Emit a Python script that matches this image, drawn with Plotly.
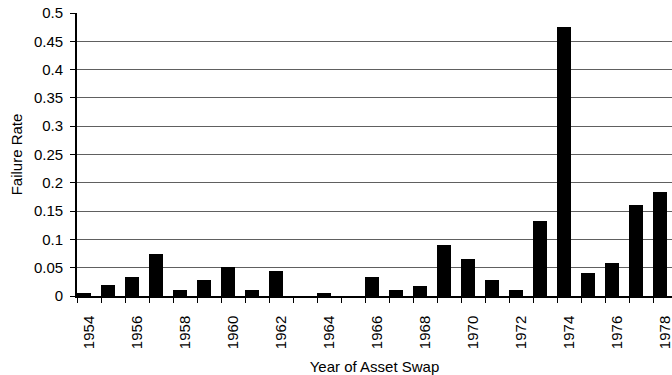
import plotly.graph_objects as go

years = list(range(1954, 1979))
failure_rate = [0.006, 0.019, 0.034, 0.075, 0.011, 0.029, 0.051, 0.011, 0.045, 0.0,
                0.005, 0.0, 0.034, 0.010, 0.017, 0.090, 0.066, 0.029, 0.010, 0.133,
                0.475, 0.040, 0.059, 0.160, 0.184]
tick_years = years[::2]
tick_labels = [str(y) for y in tick_years]
y_ticks = [0, 0.05, 0.1, 0.15, 0.2, 0.25, 0.3, 0.35, 0.4, 0.45, 0.5]
y_labels = ["0", "0.05", "0.1", "0.15", "0.2", "0.25", "0.3", "0.35", "0.4", "0.45", "0.5"]

FONT = "Liberation Sans, Arial, sans-serif"

fig = go.Figure()
fig.add_trace(go.Bar(
    x=years, y=failure_rate,
    width=0.583, offset=-0.5,
    marker=dict(color="black", line=dict(width=0)),
))

fig.update_layout(
    width=672, height=375,
    margin=dict(l=77, r=0, t=13, b=79, autoexpand=False),
    paper_bgcolor="white", plot_bgcolor="white",
    showlegend=False,
    font=dict(family=FONT, size=15, color="black"),
    bargap=0,
)
fig.update_xaxes(
    range=[1953.5, 1978.29], automargin=False,
    tickmode="array", tickvals=tick_years, ticktext=tick_labels,
    tickangle=-90, ticks="outside", ticklen=12, tickcolor="rgba(0,0,0,0)",
    tickfont=dict(size=15), ticklabeloverflow="allow",
    showline=True, linecolor="black", linewidth=1.5,
    showgrid=False, zeroline=False,
    minor=dict(ticks="outside", ticklen=5, tickcolor="black", tickwidth=1,
               tick0=1953.5, dtick=1, showgrid=False),
    title=dict(text="Year of Asset Swap", font=dict(size=15), standoff=13),
)
fig.update_yaxes(
    range=[0, 0.5], automargin=False,
    tickmode="array", tickvals=y_ticks,
    ticktext=[lab + "\u00a0" for lab in y_labels],
    ticks="outside", ticklen=5, tickcolor="black", tickfont=dict(size=15),
    showline=True, linecolor="black", linewidth=1.5,
    showgrid=True, gridcolor="#606060", gridwidth=1,
    zeroline=False,
    title=dict(text="Failure Rate", font=dict(size=15), standoff=8),
)

fig.write_html("out.html", config={"displayModeBar": False},
               post_script="document.body.style.margin='0px';")
